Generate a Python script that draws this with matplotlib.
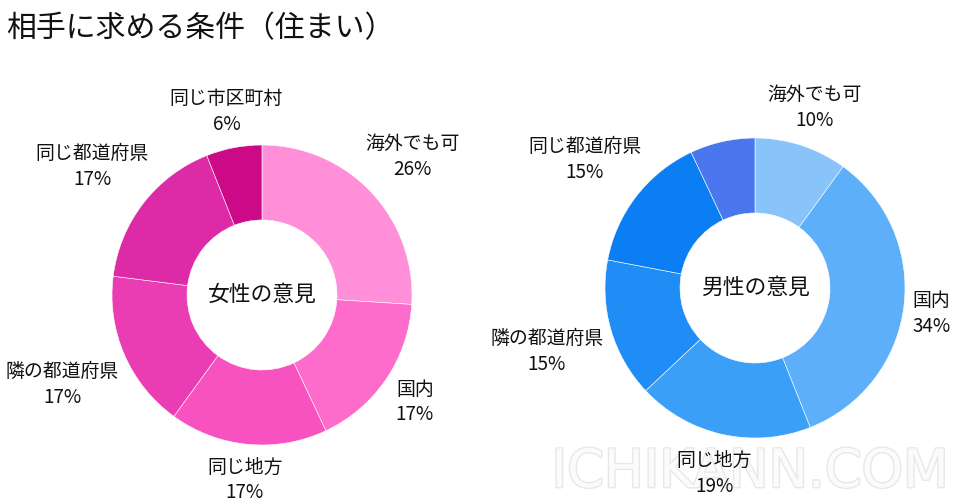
import numpy as np
import matplotlib
matplotlib.use("Agg")
import matplotlib.pyplot as plt
import matplotlib.patheffects as pe

plt.rcParams['font.family'] = ['Noto Sans CJK JP', 'DejaVu Sans']

# データ
title = "相手に求める条件（住まい）"
female_labels = ["海外でも可", "国内", "同じ地方", "隣の都道府県", "同じ都道府県", "同じ市区町村"]
female_values = [26, 17, 17, 17, 17, 6]
female_colors = ["#ff8fd8", "#fd6cca", "#f752bf", "#eb3db3", "#dd2aa6", "#cc0a88"]

male_labels = ["海外でも可", "国内", "同じ地方", "隣の都道府県", "同じ都道府県", ""]
male_values = [10, 34, 19, 15, 15, 7]
male_colors = ["#88c4fa", "#5caff8", "#3b9ff7", "#1f8df5", "#0a7ef2", "#4a76ee"]

W, H = 960, 504
fig = plt.figure(figsize=(W / 100, H / 100), dpi=100)
ax = fig.add_axes([0, 0, 1, 1])
ax.set_xlim(0, W)
ax.set_ylim(0, H)
ax.axis('off')

fig.text(6 / W, 1 - 29 / H, title, fontsize=21.5, va='center', ha='left', color='#111111')

# 透かし
ax.text(750, H - 472, "ICHIKANN.COM", fontsize=38, family='DejaVu Sans', ha='center', va='center',
        color='#fbfbfb', path_effects=[pe.withStroke(linewidth=2, foreground='#e8e8e8')], zorder=0)

renderer = fig.canvas.get_renderer()


def donut(cx, cy, R, values, labels, colors, center_text):
    wedges, _ = ax.pie(values, colors=colors, startangle=90, counterclock=False,
                       center=(cx, cy), radius=R,
                       wedgeprops=dict(width=R * 0.5, edgecolor='white', linewidth=0.4))
    ax.set_xlim(0, W)
    ax.set_ylim(0, H)
    ax.set_aspect('auto')
    ax.text(cx, cy, center_text, fontsize=15.7, ha='center', va='center', color='#111111')
    for w, lab, v in zip(wedges, labels, values):
        if not lab:
            continue
        ang = np.deg2rad((w.theta1 + w.theta2) / 2)
        t = ax.text(cx, cy, f"{lab}\n{v}%", fontsize=13.6, ha='center', va='center',
                    linespacing=1.3, color='#111111')
        bb = t.get_window_extent(renderer)
        tw, th = bb.width, bb.height
        d = R + 6 + abs(np.cos(ang)) * tw / 2 + abs(np.sin(ang)) * th / 2
        t.set_position((cx + d * np.cos(ang), cy - 3 + d * np.sin(ang)))


donut(262, H - 295, 150, female_values, female_labels, female_colors, "女性の意見")
donut(755, H - 288, 150, male_values, male_labels, male_colors, "男性の意見")

fig.savefig("out.png", dpi=100)
